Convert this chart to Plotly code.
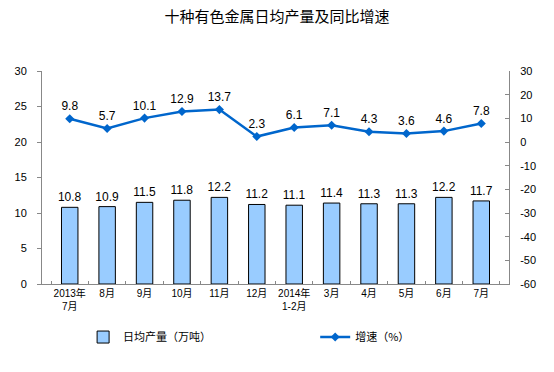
import plotly.graph_objects as go

categories = ["2013年<br>7月", "8月", "9月", "10月", "11月", "12月", "2014年<br>1-2月",
              "3月", "4月", "5月", "6月", "7月"]
output = [10.8, 10.9, 11.5, 11.8, 12.2, 11.2, 11.1, 11.4, 11.3, 11.3, 12.2, 11.7]
growth = [9.8, 5.7, 10.1, 12.9, 13.7, 2.3, 6.1, 7.1, 4.3, 3.6, 4.6, 7.8]

left_ticks = [0, 5, 10, 15, 20, 25, 30]
right_ticks = [-60, -50, -40, -30, -20, -10, 0, 10, 20, 30]

font_main = "Liberation Sans, Arial, Noto Sans CJK SC, sans-serif"

fig = go.Figure()
fig.add_trace(go.Bar(
    x=categories, y=output, name="日均产量（万吨）",
    marker=dict(color="#99CCFF", line=dict(color="#000000", width=1)),
    text=[f"{v:.1f}" for v in output], textposition="outside",
    constraintext="none",
    textfont=dict(size=12, color="#000000", family=font_main),
    cliponaxis=False, legend="legend",
))
fig.add_trace(go.Scatter(
    x=categories, y=growth, name="增速（%）", yaxis="y2",
    mode="lines+markers+text",
    line=dict(color="#0066CC", width=2.5),
    marker=dict(symbol="diamond", size=7, color="#0066CC"),
    text=[f"{v:.1f}" for v in growth], textposition="top center",
    textfont=dict(size=12, color="#000000", family=font_main),
    cliponaxis=False, legend="legend2",
))

legend_font = dict(family="Noto Sans CJK SC", size=11, color="#000000")

fig.update_layout(
    width=554, height=372,
    margin=dict(l=42, r=45, t=71, b=88, autoexpand=False),
    paper_bgcolor="white", plot_bgcolor="white",
    title=dict(text="十种有色金属日均产量及同比增速", x=0.5, xanchor="center",
               y=0.954, yanchor="middle",
               font=dict(family="Noto Sans CJK SC", size=15, color="#000000")),
    font=dict(family=font_main, size=10, color="#000000"),
    bargap=0.56,
    showlegend=True,
    legend=dict(orientation="h", x=0.088, xanchor="left", y=-0.249, yanchor="middle",
                font=legend_font, itemwidth=30, bgcolor="rgba(0,0,0,0)"),
    legend2=dict(orientation="h", x=0.585, xanchor="left", y=-0.249, yanchor="middle",
                 font=legend_font, itemwidth=30, bgcolor="rgba(0,0,0,0)"),
    xaxis=dict(type="category", showline=True, linecolor="#888888", linewidth=1,
               ticks="inside", ticklen=3, tickcolor="#888888", tickson="boundaries",
               tickangle=0, automargin=False,
               tickfont=dict(family="Liberation Sans, Noto Sans CJK SC", size=10),
               showgrid=False),
    yaxis=dict(range=[0, 30], tickvals=left_ticks, ticktext=[str(v) for v in left_ticks],
               showline=True, linecolor="#888888", automargin=False,
               linewidth=1, ticks="outside", ticklen=4, tickcolor="#888888",
               ticklabelstandoff=8,
               showgrid=False, zeroline=False,
               tickfont=dict(family="Liberation Sans", size=11)),
    yaxis2=dict(range=[-60, 30], tickvals=right_ticks, ticktext=[str(v) for v in right_ticks],
                overlaying="y", side="right", automargin=False,
                showline=True, linecolor="#888888", linewidth=1, ticks="inside",
                ticklen=4, tickcolor="#888888", showgrid=False, zeroline=False,
                ticklabelstandoff=8,
                tickfont=dict(family="Liberation Sans", size=11)),
)

fig.write_html("out.html", config={"displayModeBar": False},
               post_script="document.body.style.margin='0';document.body.style.padding='0';")
